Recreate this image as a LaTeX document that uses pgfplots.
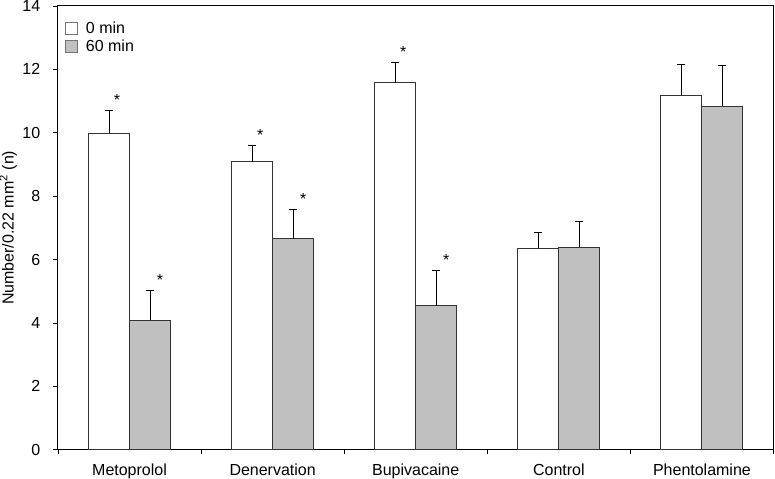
\documentclass[border=0pt]{standalone}
\usepackage{fontspec}
\setmainfont{Liberation Sans}
\usepackage{pgfplots}
\pgfplotsset{compat=1.18}
\definecolor{barfill}{HTML}{C0C0C0}
\definecolor{edge}{HTML}{333333}
\begin{document}
\begin{tikzpicture}
\begin{axis}[
scale only axis,
width=716pt, height=444pt,
xmin=0.5, xmax=5.5,
ymin=0, ymax=14,
ytick={0,2,...,14},
xtick={1,...,5},
xticklabels={Metoprolol,Denervation,Bupivacaine,Control,Phentolamine},
minor xtick={0.5,1.5,...,5.5},
tick align=outside,
tick pos=left,
major x tick style={draw=none},
major tick length=5pt,
minor tick length=4pt,
tick style={black, line width=0.6pt},
axis line style={black, line width=1pt},
font=\fontsize{16}{19}\selectfont,
/pgf/number format/assume math mode=true,
xticklabel style={yshift=-8pt, inner sep=1pt},
yticklabel style={xshift=-11.5pt, inner sep=1pt},
ylabel={Number/0.22 mm\textsuperscript{2} (n)},
ylabel style={yshift=1pt},
legend style={at={(axis description cs:0,1)}, anchor=north west,
  draw=none, fill=none, xshift=4pt, yshift=-12pt,
  nodes={inner sep=2pt}, row sep=1pt,
  /tikz/every odd column/.append style={column sep=6pt},
  font=\fontsize{16}{19}\selectfont},
legend cell align=left,
error bars/y dir=plus,
error bars/y explicit,
error bars/error bar style={black, line width=1pt},
error bars/error mark options={black, line width=1pt, mark size=4pt, rotate=90},
]
% 0 min (bars sit left of the category centre)
\addplot[ybar, bar width=41pt, bar shift=0pt, fill=white, draw=edge, line width=1pt,
  legend image code/.code={\draw[fill=white, draw=black!55, line width=0.8pt] (0pt,-6pt) rectangle (12pt,6pt);}]
coordinates {
(0.8568,9.99) +- (0,0.71)
(1.8568,9.09) +- (0,0.50)
(2.8568,11.58) +- (0,0.64)
(3.8568,6.36) +- (0,0.50)
(4.8568,11.19) +- (0,0.97)
};
% 60 min (bars sit right of the category centre)
\addplot[ybar, bar width=41pt, bar shift=0pt, fill=barfill, draw=edge, line width=1pt,
  legend image code/.code={\draw[fill=barfill, draw=black!55, line width=0.8pt] (0pt,-6pt) rectangle (12pt,6pt);}]
coordinates {
(1.1432,4.09) +- (0,0.94)
(2.1432,6.65) +- (0,0.94)
(3.1432,4.54) +- (0,1.11)
(4.1432,6.39) +- (0,0.80)
(5.1432,10.84) +- (0,1.29)
};
% significance marks above the error bars
\addplot[draw=none, mark=none, forget plot, nodes near coords={*},
  every node near coord/.style={text=black, anchor=base, inner sep=0pt, xshift=8pt, yshift=5pt}]
coordinates {(0.8568,10.70) (1.8568,9.59) (2.8568,12.22)};
\addplot[draw=none, mark=none, forget plot, nodes near coords={*},
  every node near coord/.style={text=black, anchor=base, inner sep=0pt, xshift=10pt, yshift=5pt}]
coordinates {(1.1432,5.03) (2.1432,7.59) (3.1432,5.65)};
\legend{0 min, 60 min}
\end{axis}
\pgfresetboundingbox
\path[use as bounding box] ([shift={(-58pt,-29pt)}]current axis.south west)
  rectangle ([shift={(1.5pt,6pt)}]current axis.north east);
\end{tikzpicture}
\end{document}
